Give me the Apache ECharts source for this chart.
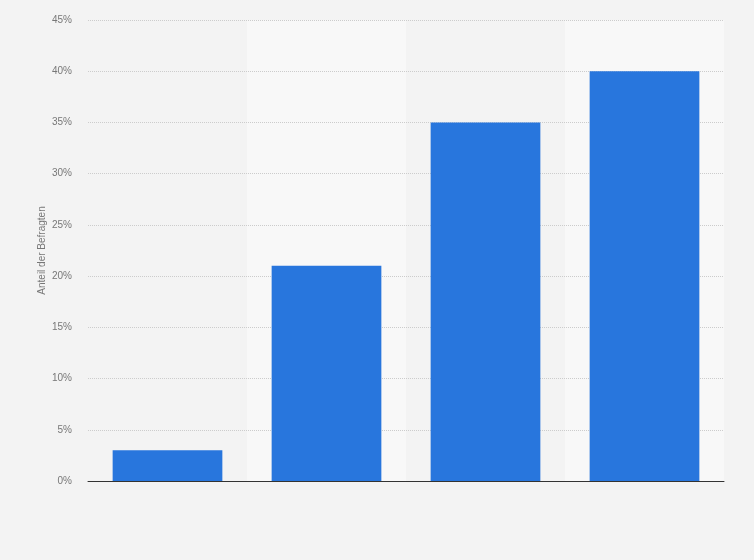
<!DOCTYPE html>
<html>
<head>
<meta charset="utf-8">
<script src="https://cdn.jsdelivr.net/npm/echarts@6/dist/echarts.min.js"></script>
<style>
  html, body { margin: 0; padding: 0; background: #f3f3f3; }
  #chart1 { width: 754px; height: 560px; }
</style>
</head>
<body>
<div id="chart1"></div>
<script>
var categories = ['1', '2', '3', '4'];
var values = [3, 21, 35, 40];
var yTitle = 'Anteil der Befragten';

var myChart = echarts.init(document.getElementById('chart1'));
var option = {
    backgroundColor: '#f3f3f3',
    animation: false,
    grid: { left: 88, right: 30, top: 20, bottom: 79 },
    xAxis: {
        type: 'category',
        data: categories,
        z: 0,
        axisLine: { show: true, lineStyle: { color: '#333', width: 1 } },
        axisTick: { show: false },
        axisLabel: { show: false },
        splitArea: { show: true, areaStyle: { color: ['rgba(0,0,0,0)', '#f8f8f8'] } }
    },
    yAxis: {
        type: 'value',
        min: 0,
        max: 45,
        interval: 5,
        z: 1,
        name: yTitle,
        nameLocation: 'middle',
        nameGap: 41,
        nameMoveOverlap: false,
        nameTextStyle: { color: '#777', fontSize: 10, fontFamily: 'Liberation Sans' },
        axisLine: { show: false },
        axisTick: { show: false },
        axisLabel: {
            formatter: '{value}%',
            color: '#777',
            fontSize: 10,
            fontFamily: 'Liberation Sans',
            margin: 16
        },
        splitLine: { showMinLine: false, lineStyle: { color: '#ccc', type: 'dotted' } }
    },
    series: [{
        type: 'bar',
        data: values,
        barWidth: '69%',
        itemStyle: { color: '#2876dd' }
    }]
};
myChart.setOption(option);
</script>
</body>
</html>
